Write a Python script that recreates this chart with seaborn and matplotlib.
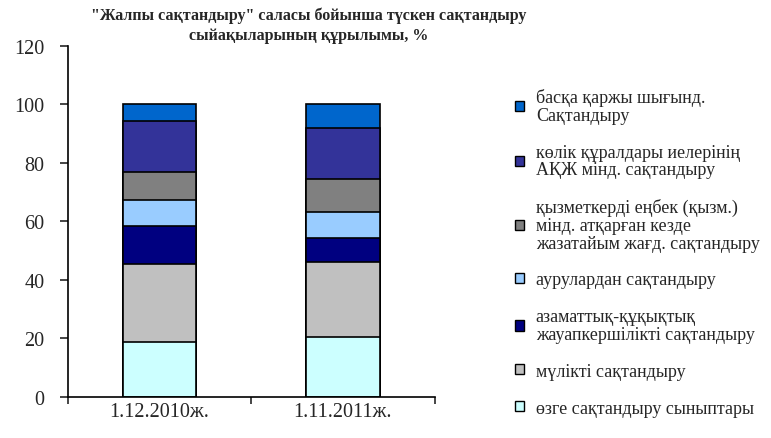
import pandas as pd
import numpy as np
import matplotlib.pyplot as plt
import seaborn as sns
from matplotlib.patches import Patch

# data (percent)
dates = ['1.12.2010ж.', '1.11.2011ж.']
series = ['өзге сақтандыру сыныптары',
          'мүлікті сақтандыру',
          'азаматтық-құқықтық\nжауапкершілікті сақтандыру',
          'аурулардан сақтандыру',
          'қызметкерді еңбек (қызм.)\nмінд. атқарған кезде\nжазатайым жағд. сақтандыру',
          'көлік құралдары иелерінің\nАҚЖ мінд. сақтандыру',
          'басқа қаржы шығынд.\nСақтандыру']
other_classes = [18.7, 20.5]
property_ins = [26.6, 25.5]
civil_liab = [13.2, 8.4]
diseases = [8.8, 8.8]
accident = [9.5, 11.3]
vehicle = [17.7, 17.6]
other_fin = [5.5, 7.9]
colors = ['#CCFFFF', '#C0C0C0', '#000080', '#99CCFF', '#808080', '#333399', '#0066CC']

sns.set_style('white')
plt.rcParams['font.family'] = ['Liberation Serif', 'DejaVu Serif']

df = pd.DataFrame({'date': dates})
vals = [other_classes, property_ins, civil_liab, diseases, accident, vehicle, other_fin]
cum = np.cumsum(np.array(vals), axis=0)

fig = plt.figure(figsize=(7.71, 4.39), dpi=100)
ax = fig.add_axes([0.0882, 0.094, 0.4755, 0.799])

# draw cumulative totals from the top layer down so each layer shows through
for i in range(len(series) - 1, -1, -1):
    df['v'] = cum[i]
    sns.barplot(data=df, x='date', y='v', color=colors[i], width=0.4,
                edgecolor='black', linewidth=1.2, saturation=1, ax=ax)

ax.set_ylim(0, 120)
ax.set_xlim(-0.5, 1.5)
ax.set_yticks(range(0, 121, 20))
ax.set_xlabel('')
ax.set_ylabel('')
sns.despine(ax=ax)
for s in ['left', 'bottom']:
    ax.spines[s].set_color('black')
    ax.spines[s].set_linewidth(1.2)
ax.tick_params(axis='y', which='major', direction='out', length=6, width=1.2,
               left=True, labelsize=14.5, pad=11)
ax.tick_params(axis='x', which='major', length=0, labelsize=14.5, pad=4)
ax.set_xticks([-0.5, 0.5, 1.5], minor=True)
ax.tick_params(axis='x', which='minor', direction='out', length=5, width=1.2, bottom=True)

fig.text(0.40, 0.982, '"Жалпы сақтандыру" саласы бойынша түскен сақтандыру\nсыйақыларының құрылымы, %',
         ha='center', va='top', fontsize=11.5, fontweight='bold', linespacing=1.3)

handles = [Patch(facecolor=colors[i], edgecolor='black', linewidth=1) for i in range(len(series))]
leg = fig.legend(handles[::-1], series[::-1], loc='upper left', bbox_to_anchor=(0.668, 0.797),
                 frameon=False, fontsize=13, handlelength=0.5, handleheight=0.5,
                 handletextpad=0.65, labelspacing=1.1, borderaxespad=0, borderpad=0)
for t in leg.get_texts():
    t.set_linespacing(1.05)

fig.savefig('out.png', dpi=100)
